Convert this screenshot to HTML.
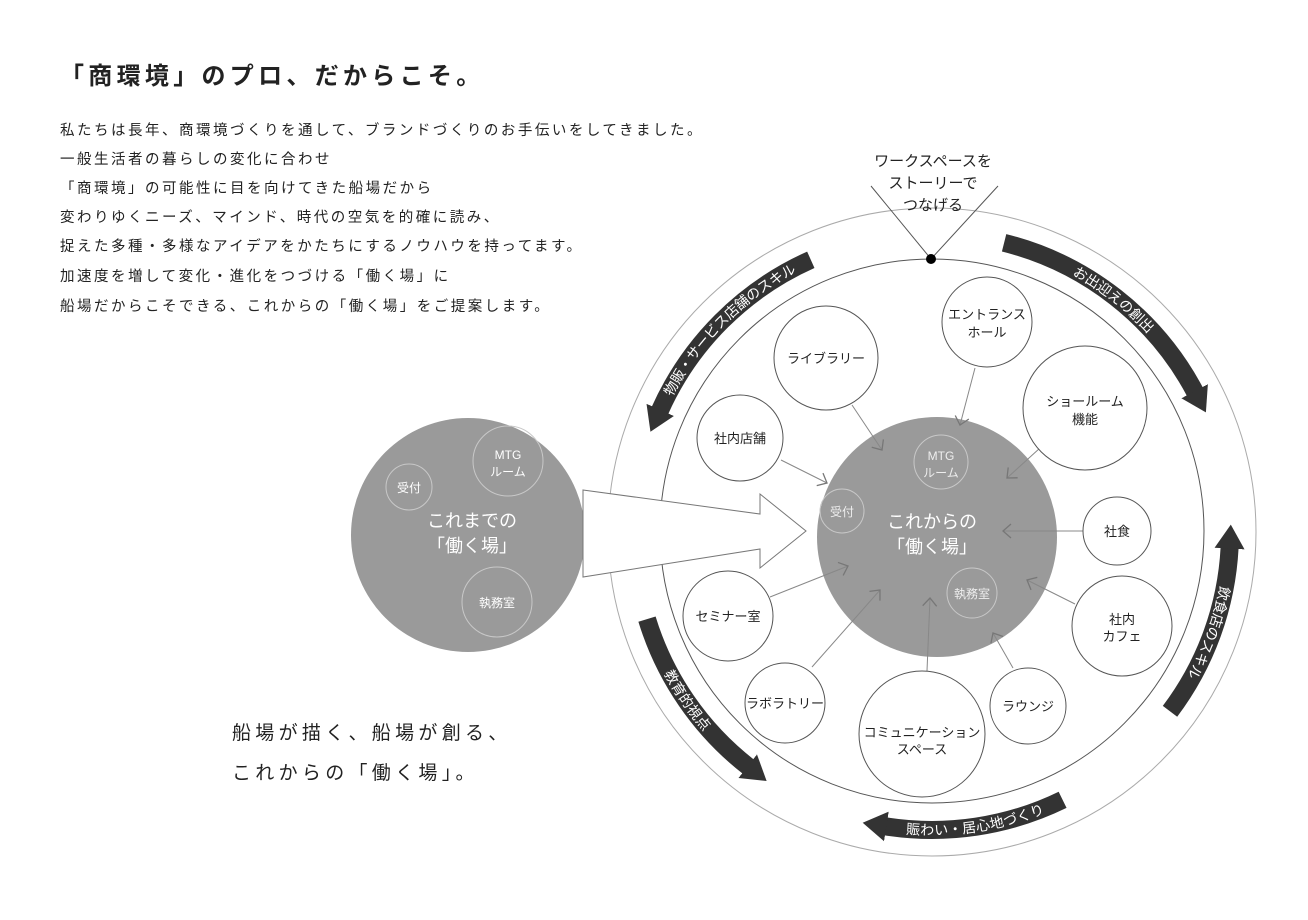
<!DOCTYPE html>
<html><head><meta charset="utf-8"><style>
html,body{margin:0;padding:0;background:#fff;width:1308px;height:920px;overflow:hidden}
svg{display:block}
text{font-family:"Liberation Sans","Noto Sans CJK JP",sans-serif}
</style></head><body>
<svg width="1308" height="920" viewBox="0 0 1308 920" xmlns="http://www.w3.org/2000/svg">
<defs>
<marker id="hd" markerUnits="userSpaceOnUse" markerWidth="30" markerHeight="36" refX="1" refY="18" orient="auto-start-reverse"><polygon points="0,3 24,18 0,33" fill="#333"/></marker>
<marker id="ch" markerUnits="userSpaceOnUse" markerWidth="14" markerHeight="16" refX="10" refY="8" orient="auto"><polyline points="2,1 10,8 2,15" fill="none" stroke="#777" stroke-width="1.3"/></marker>
<path id="pTL" d="M659.8 410.8 A298 298 0 0 1 810.8 259.8"/>
<path id="pTR" d="M1004.1 242.8 A298 298 0 0 1 1195.1 392.1"/>
<path id="pR" d="M1229.6 547.6 A298 298 0 0 1 1170 711.3"/>
<path id="pB" d="M885.4 826.3 A298 298 0 0 0 1062.6 799.8"/>
<path id="pL" d="M647 619.1 A298 298 0 0 0 748.5 766.8"/>
</defs>

<!-- left text -->
<text x="60" y="84" font-size="24" letter-spacing="4.3" fill="#222" font-weight="bold">「商環境」のプロ、だからこそ。</text>
<g font-size="14.5" fill="#222" letter-spacing="2.5">
<text x="60" y="135">私たちは長年、商環境づくりを通して、ブランドづくりのお手伝いをしてきました。</text>
<text x="60" y="164">一般生活者の暮らしの変化に合わせ</text>
<text x="60" y="193">「商環境」の可能性に目を向けてきた船場だから</text>
<text x="60" y="222">変わりゆくニーズ、マインド、時代の空気を的確に読み、</text>
<text x="60" y="251">捉えた多種・多様なアイデアをかたちにするノウハウを持ってます。</text>
<text x="60" y="281">加速度を増して変化・進化をつづける「働く場」に</text>
<text x="60" y="311">船場だからこそできる、これからの「働く場」をご提案します。</text>
</g>
<text x="232" y="739" font-size="19" letter-spacing="4.3" fill="#222">船場が描く、船場が創る、</text>
<text x="232" y="779" font-size="19" letter-spacing="4.3" fill="#222">これからの「働く場」。</text>

<!-- rings -->
<circle cx="932" cy="532" r="324" fill="none" stroke="#aaa" stroke-width="1"/>
<circle cx="932" cy="531" r="272" fill="none" stroke="#555" stroke-width="1"/>

<!-- bands -->
<g fill="none" stroke="#333" stroke-width="18">
<use href="#pTL" marker-start="url(#hd)"/>
<use href="#pTR" marker-end="url(#hd)"/>
<use href="#pR" marker-start="url(#hd)"/>
<use href="#pB" marker-start="url(#hd)"/>
<use href="#pL" marker-end="url(#hd)"/>
</g>
<g fill="#fff" font-size="14">
<text dy="5"><textPath href="#pTL" startOffset="50%" text-anchor="middle">物販・サービス店舗のスキル</textPath></text>
<text dy="5"><textPath href="#pTR" startOffset="50%" text-anchor="middle">お出迎えの創出</textPath></text>
<text dy="5"><textPath href="#pR" startOffset="50%" text-anchor="middle">飲食店のスキル</textPath></text>
<text dy="5"><textPath href="#pB" startOffset="50%" text-anchor="middle">賑わい・居心地づくり</textPath></text>
<text dy="5"><textPath href="#pL" startOffset="50%" text-anchor="middle">教育的視点</textPath></text>
</g>

<!-- top V -->
<line x1="871" y1="186" x2="931" y2="259" stroke="#555"/>
<line x1="998" y1="186" x2="931" y2="259" stroke="#555"/>
<circle cx="931" cy="259" r="5" fill="#000"/>
<g font-size="15" fill="#222" text-anchor="middle">
<text x="933" y="166">ワークスペースを</text>
<text x="933" y="188">ストーリーで</text>
<text x="933" y="210">つなげる</text>
</g>

<!-- left gray circle -->
<circle cx="468" cy="535" r="117" fill="#9a9a9a"/>
<g fill="none" stroke="#c8c8c8" stroke-width="1">
<circle cx="409" cy="487" r="23"/><circle cx="508" cy="461" r="35"/><circle cx="497" cy="602" r="35"/>
</g>
<g fill="#fff" text-anchor="middle">
<text x="409" y="492" font-size="12">受付</text>
<text x="508" y="459" font-size="12">MTG</text><text x="508" y="476" font-size="12">ルーム</text>
<text x="497" y="607" font-size="12">執務室</text>
<text x="472" y="527" font-size="18">これまでの</text>
<text x="472" y="552" font-size="18">「働く場」</text>
</g>

<!-- big hollow arrow -->
<polygon points="583,490 760,514 760,494 806,531 760,568 760,549 583,577" fill="#fff" stroke="#777" stroke-width="1"/>

<!-- center gray circle -->
<circle cx="937" cy="537" r="120" fill="#9a9a9a"/>
<g fill="none" stroke="#c8c8c8" stroke-width="1">
<circle cx="941" cy="462" r="27"/><circle cx="842" cy="511" r="22"/><circle cx="972" cy="593" r="25"/>
</g>
<g fill="#eee" text-anchor="middle" font-size="12">
<text x="941" y="460">MTG</text><text x="941" y="477">ルーム</text>
<text x="842" y="516">受付</text>
<text x="972" y="598">執務室</text>
</g>
<g fill="#fff" text-anchor="middle" font-size="18">
<text x="932" y="528">これからの</text>
<text x="932" y="553">「働く場」</text>
</g>

<!-- connectors -->
<g stroke="#888" stroke-width="1" marker-end="url(#ch)">
<line x1="852" y1="405" x2="882" y2="450"/>
<line x1="975" y1="368" x2="960" y2="425"/>
<line x1="1040" y1="448" x2="1007" y2="478"/>
<line x1="781" y1="460" x2="827" y2="483"/>
<line x1="1083" y1="531" x2="1003" y2="531"/>
<line x1="1075" y1="604" x2="1027" y2="580"/>
<line x1="1013" y1="668" x2="993" y2="633"/>
<line x1="927" y1="671" x2="930" y2="598"/>
<line x1="812" y1="667" x2="880" y2="590"/>
<line x1="770" y1="597" x2="848" y2="566"/>
</g>

<!-- small circles -->
<g fill="#fff" stroke="#555" stroke-width="1">
<circle cx="987" cy="322" r="45"/>
<circle cx="826" cy="358" r="52"/>
<circle cx="1085" cy="408" r="62"/>
<circle cx="740" cy="438" r="43"/>
<circle cx="1117" cy="531" r="34"/>
<circle cx="1122" cy="626" r="50"/>
<circle cx="728" cy="616" r="45"/>
<circle cx="785" cy="703" r="40"/>
<circle cx="922" cy="734" r="63"/>
<circle cx="1028" cy="706" r="38"/>
</g>
<g fill="#222" text-anchor="middle" font-size="13">
<text x="987" y="319">エントランス</text><text x="987" y="337">ホール</text>
<text x="826" y="363">ライブラリー</text>
<text x="1085" y="406">ショールーム</text><text x="1085" y="424">機能</text>
<text x="740" y="443">社内店舗</text>
<text x="1117" y="536">社食</text>
<text x="1122" y="624">社内</text><text x="1122" y="641">カフェ</text>
<text x="728" y="621">セミナー室</text>
<text x="785" y="708">ラボラトリー</text>
<text x="922" y="737">コミュニケーション</text><text x="922" y="754">スペース</text>
<text x="1028" y="711">ラウンジ</text>
</g>
</svg>
</body></html>
